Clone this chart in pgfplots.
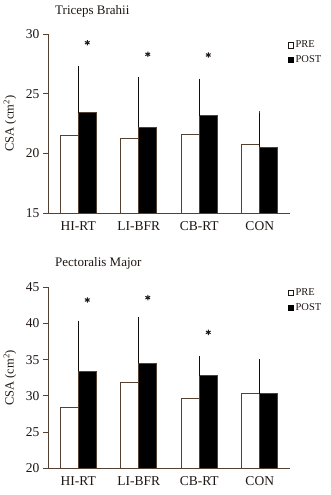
\documentclass[border=0pt]{standalone}
\usepackage{fontspec}
\setmainfont{Liberation Serif}
\usepackage{pgfplots}
\pgfplotsset{compat=1.18}
\usepackage{pgfplotstable}
\definecolor{brn}{RGB}{85,65,50}
\definecolor{txt}{RGB}{30,22,18}

\pgfplotstableread{
x pre preerr post posterr
0 21.53 3.83 23.40 3.90
1 21.27 4.26 22.20 4.17
2 21.58 2.92 23.15 3.11
3 20.75 2.80 20.52 2.84
}\tricdata
\pgfplotstableread{
x pre preerr post posterr
0 28.45 6.31 33.40 7.00
1 31.80 5.23 34.52 6.33
2 29.70 2.45 32.78 2.79
3 30.33 4.72 30.28 4.77
}\pecdata
\pgfplotstableread{
x y
0.149 29.27
1.149 28.30
2.149 28.24
}\tricstar
\pgfplotstableread{
x y
0.149 43.25
1.149 43.57
2.149 38.78
}\pecstar

\pgfplotsset{
  mystyle/.style={
    scale only axis, width=242pt,
    xmin=-0.5, xmax=3.5,
    axis x line*=bottom, axis y line*=left,
    axis line style={-, draw=brn, line width=0.8pt},
    xtick={0,1,2,3},
    xticklabels={HI-RT,LI-BFR,CB-RT,CON},
    x tick style={draw=none},
    y tick style={draw=brn, line width=0.8pt},
    tick align=outside, major tick length=5pt,
    /pgf/number format/assume math mode=true,
    tick label style={font=\fontsize{13.5}{14}\selectfont, text=txt},
    ylabel={CSA (cm\textsuperscript{2})},
    ylabel style={font=\fontsize{12.5}{14}\selectfont, text=txt, at={(axis description cs:-0.157,0.5)}, anchor=center},
    legend style={draw=none, fill=none, font=\fontsize{10.5}{11}\selectfont, text=txt,
      anchor=north west, inner sep=0pt, row sep=2.5pt,
      cells={anchor=west}},
    clip mode=individual,
  },
  prestyle/.style={ybar, bar width=18pt, bar shift=-9pt, fill=white, draw=brn, line width=0.8pt,
    legend image code/.code={\draw[fill=white,draw=txt,line width=0.6pt] (0pt,-2.6pt) rectangle (5.2pt,2.6pt);},
    error bars/.cd, y dir=plus, y explicit, error mark=none,
    error bar style={draw=brn, line width=0.9pt}},
  poststyle/.style={ybar, bar width=18pt, bar shift=9pt, fill=black, draw=brn, line width=0.8pt,
    legend image code/.code={\draw[fill=black,draw=black,line width=0.6pt] (0pt,-2.6pt) rectangle (5.2pt,2.6pt);},
    error bars/.cd, y dir=plus, y explicit, error mark=none,
    error bar style={draw=black!80!brn, line width=0.9pt}},
  starstyle/.style={only marks, mark=asterisk, mark size=2.7pt, draw=txt, line width=1pt, forget plot},
}

\begin{document}
\begin{tikzpicture}
\useasboundingbox (0,0) rectangle (330pt,495pt);
\begin{axis}[mystyle, height=179pt, at={(48pt,282pt)}, anchor=south west,
  ymin=15, ymax=30, ytick={15,20,25,30},
  legend style={at={(axis description cs:0.99,0.973)}}]
\addplot[prestyle] table[x=x, y=pre, y error=preerr]{\tricdata};
\addlegendentry{PRE}
\addplot[poststyle] table[x=x, y=post, y error=posterr]{\tricdata};
\addlegendentry{POST}
\addplot[starstyle] table[x=x,y=y]{\tricstar};
\end{axis}

\begin{axis}[mystyle, height=181pt, at={(48pt,26.7pt)}, anchor=south west,
  ymin=20, ymax=45, ytick={20,25,30,35,40,45},
  legend style={at={(axis description cs:0.99,1.005)}}]
\addplot[prestyle] table[x=x, y=pre, y error=preerr]{\pecdata};
\addlegendentry{PRE}
\addplot[poststyle] table[x=x, y=post, y error=posterr]{\pecdata};
\addlegendentry{POST}
\addplot[starstyle] table[x=x,y=y]{\pecstar};
\end{axis}
\node[anchor=base west, inner sep=0pt, font=\fontsize{13}{14}\selectfont, text=txt] at (55pt,480pt) {Triceps Brahii};
\node[anchor=base west, inner sep=0pt, font=\fontsize{13}{14}\selectfont, text=txt] at (55pt,228pt) {Pectoralis Major};
\end{tikzpicture}
\end{document}
